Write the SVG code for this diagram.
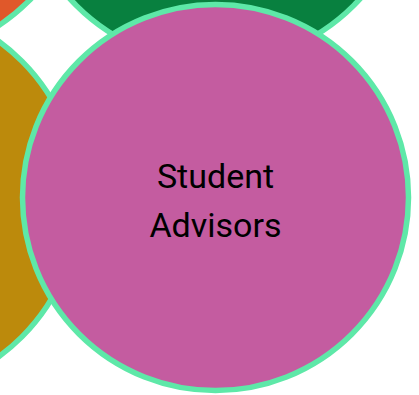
<svg xmlns="http://www.w3.org/2000/svg" width="419" height="395" viewBox="0 0 419 395">
<style>
.node{stroke:#5ee8a8;stroke-width:5.5}
.lbl{font-family:Roboto,"Noto Sans",sans-serif;font-size:34px;fill:#000;text-anchor:middle}
</style>
<rect width="419" height="395" fill="#fff"/>
<g id="node-orange"><circle class="node" cx="-109" cy="-137" r="195" fill="#e0582a"/></g>
<g id="node-green"><circle class="node" cx="215" cy="-133" r="196" fill="#08803f"/></g>
<g id="node-mustard"><circle class="node" cx="-116" cy="199" r="195" fill="#bc8a0c"/></g>
<g id="node-student-advisors">
<circle class="node" cx="215.5" cy="197.5" r="193" fill="#c45ca0"/>
<text class="lbl" x="215.5" y="188">Student</text>
<text class="lbl" x="215.5" y="237">Advisors</text>
</g>
<g id="connectors"></g>
</svg>
